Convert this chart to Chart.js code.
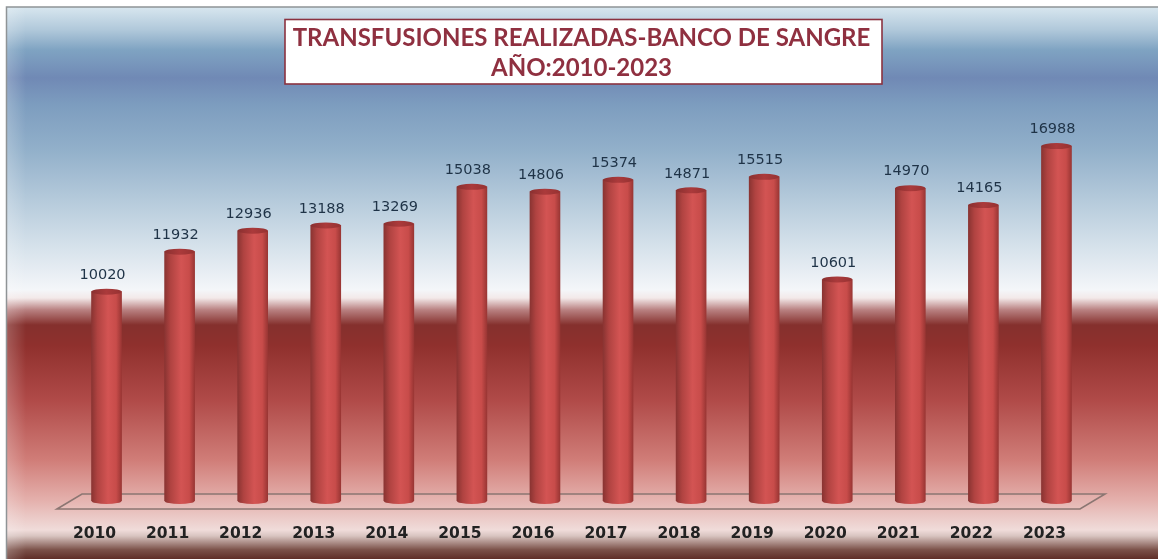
<!DOCTYPE html>
<html><head><meta charset="utf-8">
<style>html,body{margin:0;padding:0;background:#fff;overflow:hidden}canvas{display:block;filter:blur(0.45px)}</style>
<script src="https://cdn.jsdelivr.net/npm/chart.js@4"></script>
</head><body><canvas id="c" width="1158" height="559"></canvas>
<script>
const years = ['2010','2011','2012','2013','2014','2015','2016','2017','2018','2019','2020','2021','2022','2023'];
const transfusions = [10020,11932,12936,13188,13269,15038,14806,15374,14871,15515,10601,14970,14165,16988];
const titleLines = ['TRANSFUSIONES REALIZADAS-BANCO DE SANGRE','AÑO:2010-2023'];

const FONT = 'Lato, "Open Sans", sans-serif';
const NUMFONT = '"DejaVu Sans", sans-serif';
const bgStops = [[8,'#d6e5ee'],[30,'#b0c8da'],[50,'#7fa3c2'],[78,'#7089b5'],[105,'#7d9dbf'],[150,'#92b0ca'],[200,'#b5cadb'],[250,'#d8e3ec'],[290,'#f4f6f9'],[298,'#f3e9e9'],[310,'#b88080'],[325,'#85302d'],[345,'#8f302d'],[400,'#b04a48'],[460,'#d07d78'],[500,'#e4b0ac'],[530,'#f0dcda'],[536,'#d8c4c0'],[550,'#7a5048'],[559,'#5f2e28']];

function barGrad(ctx, cx){
  const g = ctx.createLinearGradient(cx-15,0,cx+15,0);
  g.addColorStop(0,'#8a3432');g.addColorStop(.2,'#b04341');g.addColorStop(.55,'#d35453');g.addColorStop(.82,'#c84c4a');g.addColorStop(1,'#9a3634');
  return g;
}

const scenery = {
  id:'scenery',
  beforeDraw(chart){
    const c = chart.ctx, W = chart.width, H = chart.height;
    c.save();
    c.fillStyle='#fff';c.fillRect(0,0,W,H);
    const g = c.createLinearGradient(0,0,0,H);
    bgStops.forEach(s=>g.addColorStop(s[0]/H,s[1]));
    c.fillStyle=g;c.fillRect(6,7,W-6,H-7);
    const side = c.createLinearGradient(6,0,26,0);
    side.addColorStop(0,'rgba(255,255,255,.22)');side.addColorStop(1,'rgba(255,255,255,0)');
    c.fillStyle=side;c.fillRect(6,7,20,H-7);
    c.strokeStyle='#8f9496';c.lineWidth=1.5;
    c.beginPath();c.moveTo(6.5,H);c.lineTo(6.5,7);c.lineTo(W,7);c.stroke();
    c.fillStyle='#fff';c.strokeStyle='#8b3240';c.lineWidth=1.6;
    c.fillRect(285,19.5,597,64.5);c.strokeRect(285,19.5,597,64.5);
    c.restore();
  },
  beforeDatasetsDraw(chart){
    const c = chart.ctx, a = chart.chartArea, y0 = chart.scales.y.getPixelForValue(0);
    c.save();
    c.strokeStyle='#8b7672';c.lineWidth=1.6;c.fillStyle='rgba(255,255,255,.05)';
    c.beginPath();
    c.moveTo(a.left-13,y0+8);c.lineTo(a.left+12,y0-7);c.lineTo(a.right+12,y0-7);c.lineTo(a.right-13,y0+8);c.closePath();
    c.fill();c.stroke();
    c.restore();
  },
  afterDatasetsDraw(chart){
    const c = chart.ctx, meta = chart.getDatasetMeta(0);
    c.save();
    meta.data.forEach((b,i)=>{
      c.fillStyle=barGrad(c,b.x);
      c.beginPath();c.ellipse(b.x,b.base,15,3,0,0,Math.PI*2);c.fill();
      const g=c.createLinearGradient(b.x-15,0,b.x+15,0);
      g.addColorStop(0,'#8a3030');g.addColorStop(.5,'#ab3a3b');g.addColorStop(1,'#963232');
      c.fillStyle=g;
      c.beginPath();c.ellipse(b.x,b.y,15,3,0,0,Math.PI*2);c.fill();
      c.fillStyle='#1f3347';c.font='14.5px '+NUMFONT;c.textAlign='center';c.textBaseline='middle';
      c.fillText(String(transfusions[i]),b.x-4,b.y-16.5);
    });
    c.restore();
  }
};

new Chart(document.getElementById('c'),{
  type:'bar',
  data:{labels:years,datasets:[{
    data:transfusions,barThickness:30,borderWidth:0,
    backgroundColor(ctx){
      const ch=ctx.chart;
      if(!ch.chartArea||ctx.dataIndex===undefined) return '#c44a48';
      return barGrad(ch.ctx,ch.scales.x.getPixelForValue(ctx.dataIndex));
    }
  }]},
  options:{
    responsive:false,animation:false,
    layout:{padding:{left:70,right:65,top:0,bottom:0}},
    plugins:{
      legend:{display:false},tooltip:{enabled:false},
      title:{display:true,text:titleLines,fullSize:false,color:'#8f3040',
        font:{family:FONT,size:24,weight:'bold',lineHeight:1.25},padding:{top:23,bottom:21}}
    },
    scales:{
      x:{afterFit(s){s.height=58;},grid:{display:false},border:{display:false},
        ticks:{color:'#222',font:{family:NUMFONT,size:15.5,weight:'bold'},padding:16,labelOffset:-12,maxRotation:0}},
      y:{display:false,min:0,max:19000}
    }
  },
  plugins:[scenery]
});
</script></body></html>
